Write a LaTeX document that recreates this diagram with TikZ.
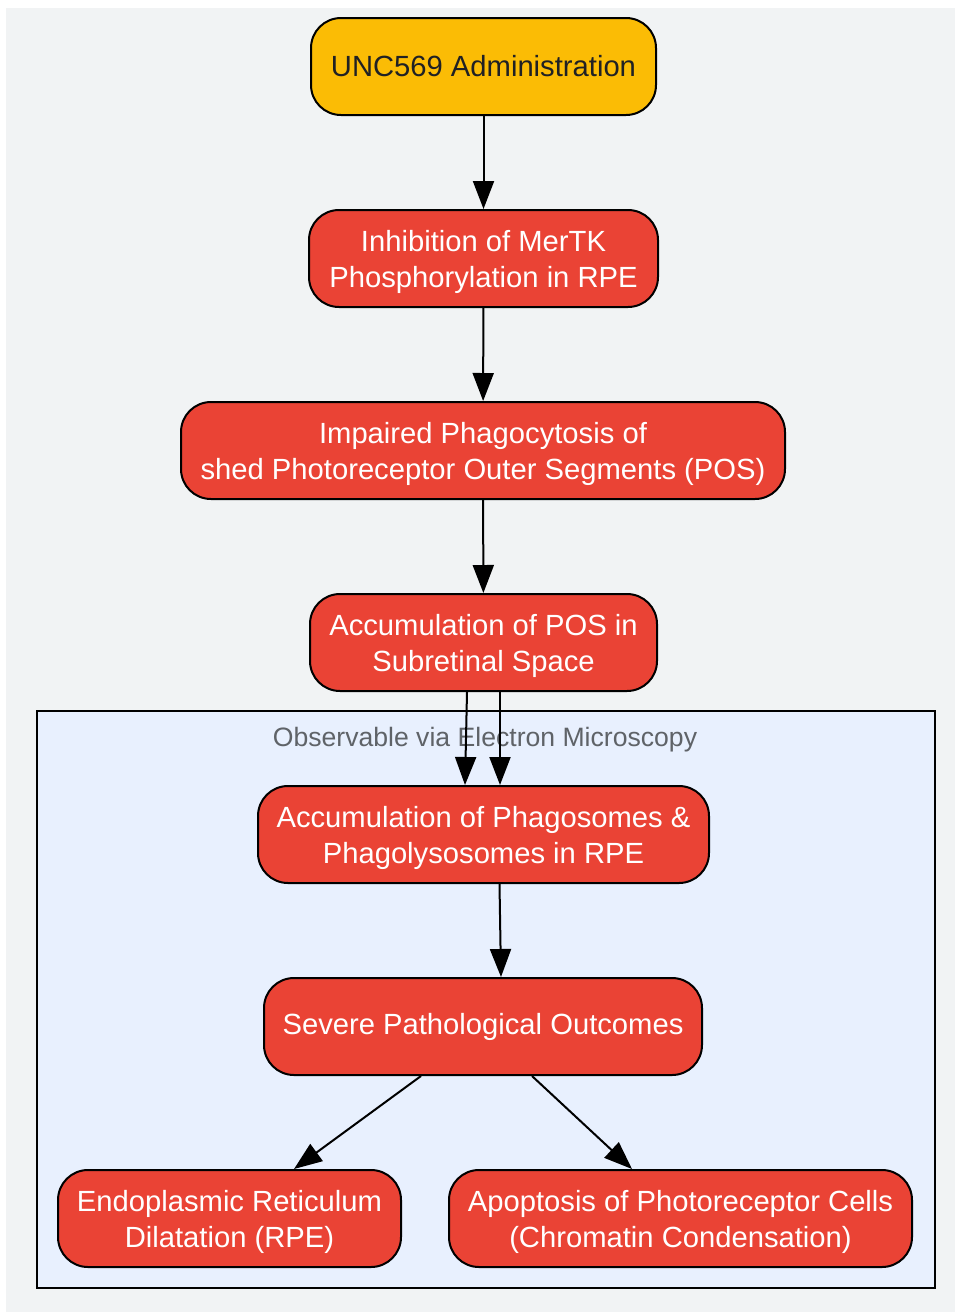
\documentclass[tikz,border=0pt]{standalone}
\usepackage{fontspec}
\setmainfont{Liberation Sans}
\usetikzlibrary{arrows.meta, positioning}
\definecolor{bggray}{HTML}{F1F3F4}
\definecolor{emblue}{HTML}{E8F0FE}
\definecolor{stepred}{HTML}{EA4335}
\definecolor{drugyellow}{HTML}{FBBC05}
\definecolor{labelgray}{HTML}{5F6368}
\definecolor{darktext}{HTML}{202124}
\tikzstyle{box}=[draw=black, line width=1pt, rounded corners=15pt, align=center, inner sep=0pt, minimum height=48.5pt, font=\fontsize{14.6}{18}\selectfont]
\tikzstyle{redbox}=[box, fill=stepred, text=white]
\tikzstyle{twoline}=[redbox, text height=29pt, text depth=0pt]
\tikzstyle{drugbox}=[box, fill=drugyellow, text=darktext]
\tikzstyle{flow}=[line width=1pt, -{Triangle[length=14pt,width=10.5pt]}]

\begin{document}
\begin{tikzpicture}[x=0.5pt,y=-0.5pt]

		%background and cluster
		\useasboundingbox (0,0) rectangle (955,1312);
		\fill[bggray] (6,8) rectangle (955,1312);
		\draw[fill=emblue, line width=0.75pt] (37,711) rectangle (935,1288);
		\node[text=labelgray, font=\fontsize{13.3}{16}\selectfont] (emlabel) at (485,740) {Observable via Electron Microscopy};

		%main chain
		\node[drugbox, minimum width=172.5pt] (unc) at (483.5,66.5) {UNC569 Administration};
		\node[twoline, minimum width=174.5pt] (inhib) at (483.5,258.5) {Inhibition of MerTK\\Phosphorylation in RPE};
		\node[twoline, minimum width=302pt] (phagocyt) at (483,450.5) {Impaired Phagocytosis of\\shed Photoreceptor Outer Segments (POS)};
		\node[twoline, minimum width=173.5pt] (accpos) at (483.5,642.5) {Accumulation of POS in\\Subretinal Space};

		%inside the cluster
		\node[twoline, minimum width=225.5pt] (phagosome) at (483.5,834.5) {Accumulation of Phagosomes \&\\Phagolysosomes in RPE};
		\node[redbox, minimum width=219pt] (severe) at (483,1026.5) {Severe Pathological Outcomes};
		\node[twoline, minimum width=171.5pt] (erdil) at (229.5,1218.5) {Endoplasmic Reticulum\\Dilatation (RPE)};
		\node[twoline, minimum width=231.5pt] (apoptosis) at (680.5,1218.5) {Apoptosis of Photoreceptor Cells\\(Chromatin Condensation)};

		%arrows
		\draw[flow] (unc) -- (inhib);
		\draw[flow] (inhib) -- (phagocyt);
		\draw[flow] (phagocyt) -- (accpos);
		\draw[flow] ([xshift=-8.25pt]accpos.south) -- ([xshift=-9.25pt]phagosome.north);
		\draw[flow] ([xshift=8.25pt]accpos.south) -- ([xshift=8.25pt]phagosome.north);
		\draw[flow] ([xshift=8pt]phagosome.south) -- ([xshift=9pt]severe.north);
		\draw[flow] ([xshift=-31pt]severe.south) -- ([xshift=32.25pt]erdil.north);
		\draw[flow] ([xshift=24.5pt]severe.south) -- ([xshift=-24.25pt]apoptosis.north);

	\end{tikzpicture}
\end{document}
